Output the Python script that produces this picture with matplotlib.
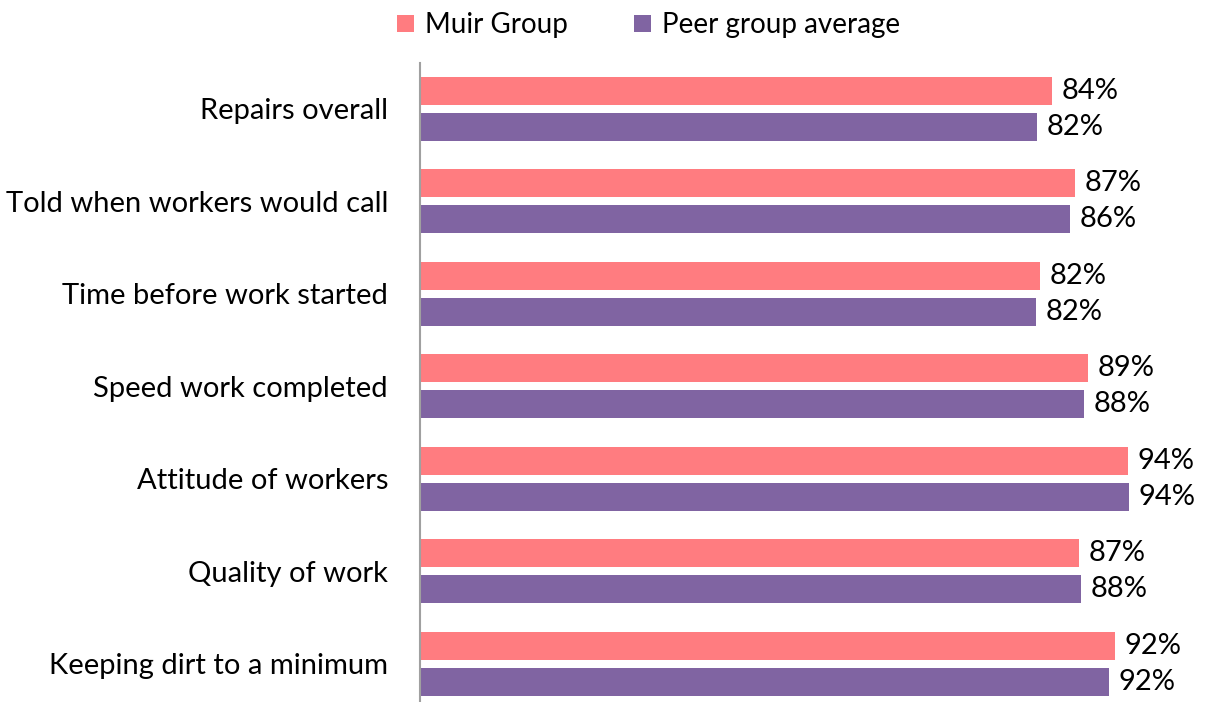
import numpy as np
import matplotlib.pyplot as plt

categories = ["Repairs overall", "Told when workers would call", "Time before work started",
              "Speed work completed", "Attitude of workers", "Quality of work",
              "Keeping dirt to a minimum"]
muir = [83.8, 86.9, 82.2, 88.6, 93.9, 87.4, 92.2]
peer = [81.8, 86.2, 81.7, 88.1, 94.0, 87.7, 91.4]
muir_labels = ["84%", "87%", "82%", "89%", "94%", "87%", "92%"]
peer_labels = ["82%", "86%", "82%", "88%", "94%", "88%", "92%"]

plt.rcParams['font.family'] = ['Lato', 'DejaVu Sans']

fig = plt.figure(figsize=(12.08, 7.02), dpi=100)
# axes spans a little past the bottom edge, like the original
ax = fig.add_axes([420 / 1208, -8 / 702, 754 / 1208, 647.5 / 702])

y = np.arange(len(categories))
h = 0.30
off = 0.195
ax.barh(y - off, muir, height=h, color='#FF7C80', label='Muir Group')
ax.barh(y + off, peer, height=h, color='#8064A2', label='Peer group average')

for i in range(len(categories)):
    ax.text(muir[i] + 1.3, y[i] - off, muir_labels[i], va='center', ha='left', fontsize=21, clip_on=False)
    ax.text(peer[i] + 1.3, y[i] + off, peer_labels[i], va='center', ha='left', fontsize=21, clip_on=False)

ax.set_xlim(0, 100)
ax.set_ylim(len(categories) - 0.5, -0.5)
ax.set_yticks(y)
ax.set_yticklabels(categories, fontsize=21)
ax.tick_params(axis='y', length=0, pad=23)
ax.set_xticks([])
for s in ['top', 'right', 'bottom']:
    ax.spines[s].set_visible(False)
ax.spines['left'].set_color('#A0A0A0')
ax.spines['left'].set_linewidth(1.5)

fig.legend(loc='upper center', bbox_to_anchor=(0.537, 1.018), ncol=2, frameon=False, fontsize=20,
           handlelength=0.6, handleheight=0.6, handletextpad=0.4, columnspacing=2.4)

fig.savefig('out.png', dpi=100)
